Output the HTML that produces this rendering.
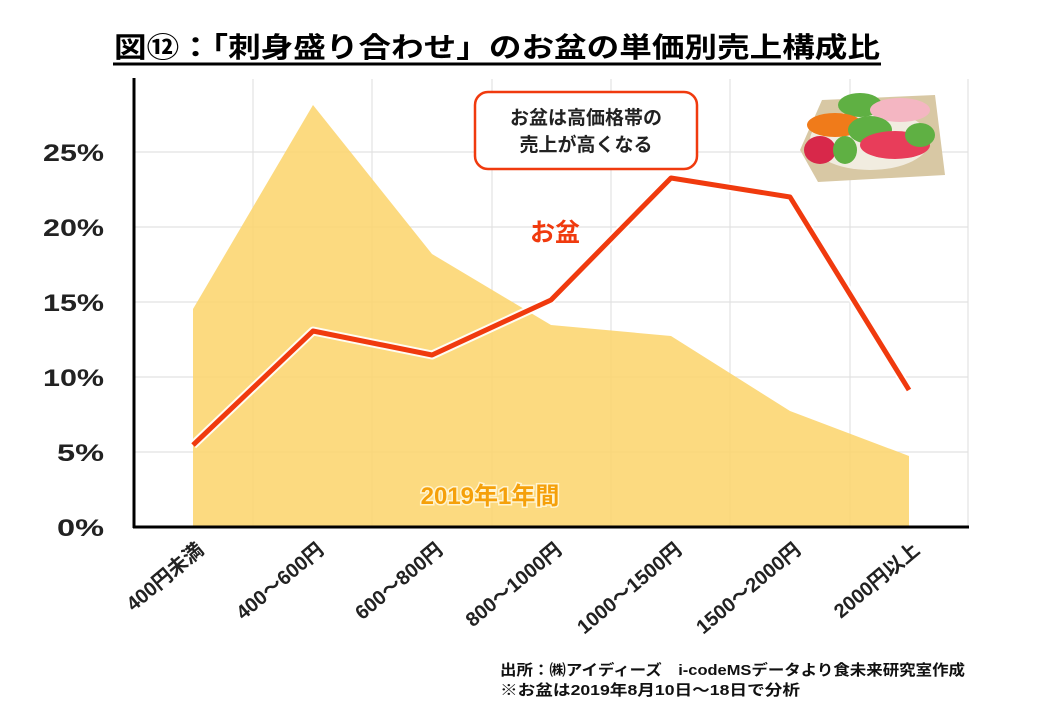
<!DOCTYPE html>
<html><head><meta charset="utf-8"><style>
body{margin:0;background:#fff;width:1040px;height:720px;overflow:hidden;font-family:"Liberation Sans","Noto Sans CJK JP",sans-serif}
</style></head><body>
<svg width="1040" height="720" xmlns="http://www.w3.org/2000/svg" style="position:absolute;left:0;top:0;font-family:'Liberation Sans','Noto Sans CJK JP',sans-serif">
<text x="114" y="57" font-size="28" font-weight="bold" fill="#000" textLength="766" lengthAdjust="spacingAndGlyphs">図⑫：「刺身盛り合わせ」のお盆の単価別売上構成比</text>
<line x1="113" y1="64" x2="881" y2="64" stroke="#000" stroke-width="3"/>
<g stroke="#e2e2e2" stroke-width="1.2">
<line x1="253" y1="79" x2="253" y2="527"/><line x1="372" y1="79" x2="372" y2="527"/><line x1="492" y1="79" x2="492" y2="527"/><line x1="611" y1="79" x2="611" y2="527"/><line x1="730" y1="79" x2="730" y2="527"/><line x1="850" y1="79" x2="850" y2="527"/><line x1="968" y1="79" x2="968" y2="527"/>
<line x1="133" y1="152" x2="968" y2="152"/><line x1="133" y1="227" x2="968" y2="227"/><line x1="133" y1="302" x2="968" y2="302"/><line x1="133" y1="377" x2="968" y2="377"/><line x1="133" y1="452" x2="968" y2="452"/>
</g>
<polygon points="193,527 193,309 313,105 432,254 551,325 671,336 790,411 909,456 909,527" fill="#fcd36a" opacity="0.85"/>
<polyline points="193,445 313,331 432,355 551,300 671,178 790,197 909,390" fill="none" stroke="#fff" stroke-width="9" stroke-linejoin="round" opacity="0.9"/>
<polyline points="193,445 313,331 432,355 551,300 671,178 790,197 909,390" fill="none" stroke="#f03a0e" stroke-width="5" stroke-linejoin="round"/>
<line x1="134" y1="78" x2="134" y2="528" stroke="#000" stroke-width="3"/>
<line x1="133" y1="527" x2="969" y2="527" stroke="#000" stroke-width="3"/>
<g font-size="24" font-weight="bold" fill="#222">
<text x="43" y="161" textLength="61" lengthAdjust="spacingAndGlyphs">25%</text><text x="43" y="236" textLength="61" lengthAdjust="spacingAndGlyphs">20%</text><text x="43" y="311" textLength="61" lengthAdjust="spacingAndGlyphs">15%</text><text x="43" y="386" textLength="61" lengthAdjust="spacingAndGlyphs">10%</text><text x="57" y="461" textLength="47" lengthAdjust="spacingAndGlyphs">5%</text><text x="57" y="536" textLength="47" lengthAdjust="spacingAndGlyphs">0%</text>
</g>
<g font-size="20" font-weight="bold" fill="#222" text-anchor="end">
<text transform="translate(205,552) rotate(-40)">400円未満</text>
<text transform="translate(325,552) rotate(-40)">400～600円</text>
<text transform="translate(444,552) rotate(-40)">600～800円</text>
<text transform="translate(563,552) rotate(-40)">800～1000円</text>
<text transform="translate(683,552) rotate(-40)">1000～1500円</text>
<text transform="translate(802,552) rotate(-40)">1500～2000円</text>
<text transform="translate(921,552) rotate(-40)">2000円以上</text>
</g>
<rect x="475" y="92" width="222" height="77" rx="13" fill="#fff" stroke="#f03a0e" stroke-width="2.5"/>
<text x="586" y="124" text-anchor="middle" font-size="19" font-weight="bold" fill="#222">お盆は高価格帯の</text>
<text x="586" y="151" text-anchor="middle" font-size="19" font-weight="bold" fill="#222">売上が高くなる</text>
<text x="555" y="241" text-anchor="middle" font-size="25" font-weight="bold" fill="#f03a0e">お盆</text>
<text x="490" y="504" text-anchor="middle" font-size="24" font-weight="bold" fill="#f5a00a" stroke="#fff4d0" stroke-width="3" paint-order="stroke">2019年1年間</text>
<g>
<polygon points="822,100 935,95 945,175 818,182 800,150" fill="#d8c8a4"/>
<ellipse cx="870" cy="140" rx="60" ry="30" fill="#f1ece0"/>
<ellipse cx="860" cy="105" rx="22" ry="12" fill="#5fb043"/>
<ellipse cx="835" cy="125" rx="28" ry="12" fill="#f07b1a"/>
<ellipse cx="900" cy="110" rx="30" ry="12" fill="#f4b6c2"/>
<ellipse cx="870" cy="130" rx="22" ry="14" fill="#5fb043"/>
<ellipse cx="895" cy="145" rx="35" ry="14" fill="#e83d5a"/>
<ellipse cx="920" cy="135" rx="15" ry="12" fill="#5fb043"/>
<ellipse cx="820" cy="150" rx="16" ry="14" fill="#d8284a"/>
<ellipse cx="845" cy="150" rx="12" ry="14" fill="#5fb043"/>
</g>
<text x="500" y="675" font-size="15" font-weight="bold" fill="#111" textLength="465" lengthAdjust="spacingAndGlyphs">出所：㈱アイディーズ　i-codeMSデータより食未来研究室作成</text>
<text x="500" y="695" font-size="15" font-weight="bold" fill="#111" textLength="300" lengthAdjust="spacingAndGlyphs">※お盆は2019年8月10日～18日で分析</text>
</svg>
</body></html>
